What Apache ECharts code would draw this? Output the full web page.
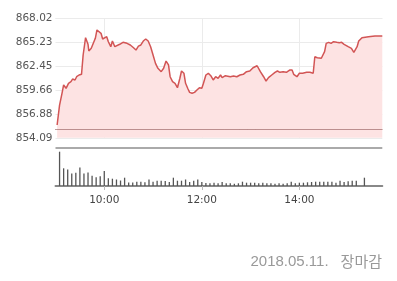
<!DOCTYPE html>
<html><head><meta charset="utf-8">
<script src="https://cdn.jsdelivr.net/npm/echarts@6/dist/echarts.min.js"></script>
<style>html,body{margin:0;padding:0;background:#fff}#c{width:397px;height:281px}</style>
</head><body><div id="c"></div>
<script>
const sessionStart = '9:00';
const sessionEnd = '15:42';
const xTickLabels = ['10:00', '12:00', '14:00'];
const yMin = 854.09;
const yMax = 868.02;
const prevClose = 855.06;
const dateText = '2018.05.11.';
const statusText = '장마감';

const priceTimes = ['9:02','9:05','9:08','9:10','9:13','9:16','9:19','9:21','9:24','9:26','9:29','9:32','9:34','9:37','9:40','9:41','9:44','9:46','9:49','9:51','9:53','9:56','9:58',
'10:00','10:03','10:05','10:08','10:10','10:13','10:15','10:19','10:23','10:28','10:32','10:36','10:39','10:42','10:45','10:48','10:51','10:54','10:57',
'11:00','11:03','11:06','11:10','11:13','11:16','11:19','11:21','11:24','11:27','11:30','11:33','11:35','11:38','11:40','11:43','11:45','11:48','11:51','11:54','11:57',
'12:00','12:02','12:05','12:08','12:11','12:14','12:17','12:20','12:23','12:25','12:29','12:31','12:35','12:39','12:43','12:47','12:51','12:55','12:59',
'13:03','13:08','13:10','13:12','13:16','13:19','13:22','13:26','13:30','13:33','13:36','13:40','13:44','13:48','13:51','13:53','13:57',
'14:00','14:04','14:09','14:13','14:17','14:19','14:22','14:24','14:27','14:28','14:31','14:33','14:36','14:39','14:42','14:46','14:49','14:52','14:55','14:57',
'15:00','15:02','15:04','15:07','15:09','15:11','15:13','15:17','15:19','15:25','15:33','15:42'];
const priceValues = [855.58,857.90,859.28,860.25,859.86,860.44,860.63,860.94,860.83,861.21,861.41,861.49,863.74,865.76,864.99,864.21,864.52,864.71,865.69,866.66,866.77,866.27,865.61,
865.76,865.88,865.29,864.71,865.37,864.71,864.91,864.99,865.22,865.10,864.91,864.59,864.32,864.77,864.91,865.37,865.61,865.37,864.71,
863.74,862.77,862.19,861.80,862.19,863.04,862.58,861.21,860.63,860.44,859.93,861.03,861.88,861.61,860.44,859.78,859.39,859.28,859.39,859.66,859.93,
859.86,860.44,861.41,861.61,861.33,860.83,861.21,861.03,861.41,861.10,861.33,861.41,861.21,861.29,861.21,861.41,861.49,861.80,861.88,
862.26,862.49,862.38,861.80,861.21,860.71,861.10,861.41,861.72,861.88,861.72,861.80,861.72,861.99,861.99,861.49,861.21,
861.61,861.61,861.72,861.72,861.61,863.54,863.43,863.43,863.36,863.54,864.13,865.10,865.22,865.10,865.29,865.22,865.18,865.22,864.99,865.03,
864.71,864.91,864.52,864.06,864.21,864.71,865.37,865.76,865.88,865.88,865.96,865.96];

const volTimes = ['9:05','9:10','9:15','9:20','9:25','9:30','9:35','9:40','9:45','9:50','9:55',
'10:00','10:05','10:10','10:15','10:20','10:25','10:30','10:35','10:40','10:45','10:50','10:55',
'11:00','11:05','11:10','11:15','11:20','11:25','11:30','11:35','11:40','11:45','11:50','11:55',
'12:00','12:05','12:10','12:15','12:20','12:25','12:30','12:35','12:40','12:45','12:50','12:55',
'13:00','13:05','13:10','13:15','13:20','13:25','13:30','13:35','13:40','13:45','13:50','13:55',
'14:00','14:05','14:10','14:15','14:20','14:25','14:30','14:35','14:40','14:45','14:50','14:55',
'15:00','15:05','15:10','15:20'];
const volValues = [3430,1770,1650,1250,1330,1850,1250,1350,1030,870,970,
1500,770,730,650,550,830,350,350,430,430,370,650,
430,530,530,500,400,830,530,530,650,400,530,650,
400,300,270,330,270,400,270,270,230,270,430,330,
330,330,270,330,270,270,230,270,230,270,430,270,
330,330,370,400,430,430,430,430,430,330,530,400,
470,530,530,830];
const volMax = 3850;

function toMin(s){const p=s.split(':');return (+p[0])*60+(+p[1]);}
function buildMinutes(a,b){const out=[];for(let m=toMin(a);m<=toMin(b);m++){out.push(Math.floor(m/60)+':'+String(m%60).padStart(2,'0'));}return out;}
const minutes = buildMinutes(sessionStart, sessionEnd);
const isTick = (i, v) => xTickLabels.indexOf(v) >= 0;

const chart = echarts.init(document.getElementById('c'), null, {renderer:'canvas'});
chart.setOption({
  animation:false,
  backgroundColor:'#fff',
  title:{text:'{a|'+dateText+'}{b|'+statusText+'}',right:10,top:249,
    textStyle:{fontWeight:'normal',rich:{
      a:{color:'#999',fontSize:15,fontWeight:'normal',fontFamily:'Liberation Sans',padding:[0,12,0,0]},
      b:{color:'#999',fontSize:15,fontWeight:'normal',fontFamily:'Noto Sans CJK KR'}
    }}},
  grid:[
    {left:55.5,right:14.7,top:18.3,bottom:281-137.8},
    {left:55.5,right:14.7,top:147.5,height:38.5}
  ],
  xAxis:[
    {type:'category',gridIndex:0,data:minutes,boundaryGap:false,
     axisLabel:{show:false},axisTick:{show:false},axisLine:{show:false},
     splitLine:{show:true,interval:isTick,lineStyle:{color:'#ebebeb',width:1}}},
    {type:'category',gridIndex:1,data:minutes,boundaryGap:false,
     axisLine:{lineStyle:{color:'#888',width:2}},
     axisTick:{show:true,interval:isTick,length:4,lineStyle:{color:'#bbb'}},
     axisLabel:{interval:isTick,color:'#444',fontSize:10.5,fontFamily:'DejaVu Sans',margin:9},
     splitLine:{show:false}}
  ],
  yAxis:[
    {type:'value',gridIndex:0,min:yMin,max:yMax,interval:(yMax-yMin)/5,
     axisLabel:{formatter:v=>v.toFixed(2),color:'#555',fontSize:10.5,fontFamily:'DejaVu Sans',margin:3},
     axisLine:{show:false},axisTick:{show:false},
     splitLine:{lineStyle:{color:'#ebebeb',width:1}}},
    {type:'value',gridIndex:1,min:0,max:volMax,interval:volMax,
     axisLabel:{show:false},axisLine:{show:false},axisTick:{show:false},
     splitLine:{lineStyle:{color:'#aaa',width:2}}}
  ],
  series:[
    {type:'line',xAxisIndex:0,yAxisIndex:0,
     data:priceTimes.map((t,i)=>[t,priceValues[i]]),
     showSymbol:false,symbol:'none',
     lineStyle:{color:'#d25555',width:1.5},
     areaStyle:{color:'#fde3e3',opacity:1},
     markLine:{silent:true,symbol:'none',label:{show:false},
       lineStyle:{type:'dotted',color:'#7a3a3a',width:1},
       data:[{yAxis:prevClose}]}},
    {type:'bar',xAxisIndex:1,yAxisIndex:1,
     data:volTimes.map((t,i)=>[t,volValues[i]]),
     barWidth:1.3,itemStyle:{color:'#555'}}
  ]
});
</script>
</body></html>
